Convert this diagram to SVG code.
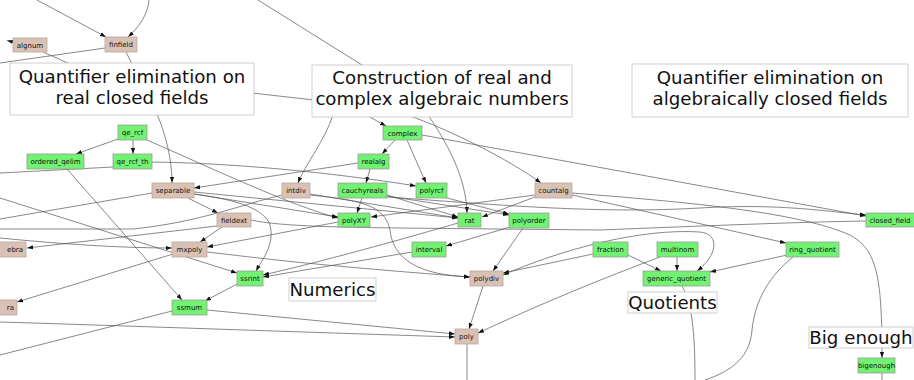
<svg xmlns="http://www.w3.org/2000/svg" width="914" height="380" viewBox="0 0 914 380">
<defs>
<marker id="a" viewBox="0 0 10 10" refX="10" refY="5" markerWidth="6" markerHeight="6" orient="auto-start-reverse" markerUnits="userSpaceOnUse"><path d="M0,1.5 L10,5 L0,8.5 z" fill="#111"/></marker>
<style>
.e{fill:none;stroke:#555;stroke-width:0.7}
.ea{fill:none;stroke:#555;stroke-width:0.7;marker-end:url(#a)}
.g rect{fill:#72f272;stroke:#9c9c9c;stroke-width:0.8}
.b rect{fill:#d9c2b5;stroke:#b8a89e;stroke-width:0.8}
.n text{font-family:"DejaVu Sans",sans-serif;font-size:7px;fill:#111;text-anchor:middle}
.l rect{fill:#fff;stroke:#c4c4c4;stroke-width:0.8}
.l text{font-family:"DejaVu Sans",sans-serif;font-size:18.2px;fill:#111;text-anchor:middle}
</style>
</defs>
<rect width="914" height="380" fill="#fff"/>
<g id="edges">
<path class="ea" d="M37,0 L106,37"/>
<path class="ea" d="M149,0 C148,15 138,28 128,37"/>
<path class="e" d="M258,0 L362,65"/>
<path class="ea" d="M13,42 L7,40.5"/>
<path class="e" d="M43,52 L70,64"/>
<path class="e" d="M105,48 L0,63"/>
<path class="e" d="M126,52 L132,64"/>
<path class="ea" d="M157,114 C166,135 172,160 172,183"/>
<path class="e" d="M252,93 L314,100"/>
<path class="ea" d="M333,115 C325,140 305,165 298,183"/>
<path class="ea" d="M368,116 L386,126"/>
<path class="ea" d="M428,115 C445,140 466,175 467,213"/>
<path class="ea" d="M410,116 C450,130 510,160 541,183"/>
<path class="ea" d="M422,135 L866,216"/>
<path class="ea" d="M395,140 L382,154"/>
<path class="ea" d="M407,140 L426,183"/>
<path class="ea" d="M370,169 L366,183"/>
<path class="ea" d="M358,163 L194,188"/>
<path class="e" d="M113,167 L0,173"/>
<path class="ea" d="M152,162 C230,163 330,172 416,186"/>
<path class="ea" d="M118,139 L76,154"/>
<path class="ea" d="M133,140 L133,154"/>
<path class="ea" d="M147,140 C220,172 290,205 338,218"/>
<path class="ea" d="M188,198 L218,213"/>
<path class="e" d="M152,193 L0,219"/>
<path class="ea" d="M194,194 C240,200 265,210 270,225 C275,245 262,260 256,271"/>
<path class="ea" d="M194,194 L338,217"/>
<path class="ea" d="M194,192 L458,218"/>
<path class="ea" d="M310,195 C360,200 385,205 390,230 C393,260 420,275 470,277"/>
<path class="ea" d="M310,194 L458,218"/>
<path class="e" d="M282,195 C240,205 200,222 133,229 L0,229"/>
<path class="ea" d="M535,195 L371,217"/>
<path class="ea" d="M535,197 L482,217"/>
<path class="ea" d="M572,195 L786,243"/>
<path class="ea" d="M572,193 C700,203 800,213 850,235 C878,250 882,280 882,358"/>
<path class="ea" d="M362,198 L357,213"/>
<path class="ea" d="M387,195 L458,217"/>
<path class="ea" d="M387,196 L509,215"/>
<path class="ea" d="M387,197 C500,205 600,214 700,208 C780,203 830,212 866,215"/>
<path class="ea" d="M447,198 L509,214"/>
<path class="ea" d="M510,227 L446,246"/>
<path class="ea" d="M523,228 L493,271"/>
<path class="ea" d="M458,223 C400,240 320,262 263,275"/>
<path class="ea" d="M412,252 L263,277"/>
<path class="ea" d="M338,222 L207,247"/>
<path class="ea" d="M222,227 L200,242"/>
<path class="e" d="M251,220 C270,224 300,227 400,228 L600,230 C700,226 800,222 866,221"/>
<path class="ea" d="M217,226 L27,248"/>
<path class="ea" d="M0,198 L237,273"/>
<path class="ea" d="M0,238 C60,244 120,248 172,248"/>
<path class="ea" d="M173,254 L17,302"/>
<path class="ea" d="M207,252 C260,258 300,264 470,277"/>
<path class="ea" d="M237,284 L205,301"/>
<path class="e" d="M172,311 L0,355"/>
<path class="ea" d="M207,310 L455,334"/>
<path class="ea" d="M0,322 C100,325 300,332 455,337"/>
<path class="ea" d="M483,286 L469,329"/>
<path class="ea" d="M660,257 C620,272 560,295 478,333"/>
<path class="e" d="M467,344 L467,380"/>
<path class="ea" d="M593,254 L503,273"/>
<path class="ea" d="M503,275 C560,250 640,228 700,232 C720,234 718,255 697,271" marker-start="url(#a)"/>
<path class="ea" d="M628,255 L661,271"/>
<path class="ea" d="M677,257 L677,271"/>
<path class="ea" d="M787,255 L710,272"/>
<path class="e" d="M793,257 C770,275 755,300 752,330 C750,355 735,370 705,380"/>
<path class="e" d="M682,286 C690,300 695,320 695,380"/>
<path class="e" d="M882,373 L882,380"/>
<path class="ea" d="M67,169 L182,300"/>
</g>
<g id="algnum" class="n b"><rect x="13" y="38" width="34" height="14"/><text x="30" y="47.5">algnum</text></g>
<g id="finfield" class="n b"><rect x="105" y="37" width="32" height="15"/><text x="121" y="47">finfield</text></g>
<g id="qe_rcf" class="n g"><rect x="118" y="125" width="29" height="15"/><text x="132.5" y="135">qe_rcf</text></g>
<g id="complex" class="n g"><rect x="383" y="126" width="39" height="14"/><text x="402.5" y="135.5">complex</text></g>
<g id="ordered_qelim" class="n g"><rect x="27" y="154" width="57" height="15"/><text x="55.5" y="164">ordered_qelim</text></g>
<g id="qe_rcf_th" class="n g"><rect x="113" y="154" width="39" height="15"/><text x="132.5" y="164">qe_rcf_th</text></g>
<g id="realalg" class="n g"><rect x="358" y="154" width="31" height="15"/><text x="373.5" y="164">realalg</text></g>
<g id="separable" class="n b"><rect x="152" y="183" width="42" height="15"/><text x="173" y="193">separable</text></g>
<g id="intdiv" class="n b"><rect x="282" y="183" width="28" height="15"/><text x="296" y="193">intdiv</text></g>
<g id="cauchyreals" class="n g"><rect x="338" y="183" width="49" height="15"/><text x="362.5" y="193">cauchyreals</text></g>
<g id="polyrcf" class="n g"><rect x="416" y="183" width="31" height="15"/><text x="431.5" y="193">polyrcf</text></g>
<g id="countalg" class="n b"><rect x="535" y="183" width="37" height="15"/><text x="553.5" y="193">countalg</text></g>
<g id="fieldext" class="n b"><rect x="217" y="213" width="34" height="14"/><text x="234" y="222.5">fieldext</text></g>
<g id="polyXY" class="n g"><rect x="338" y="213" width="32" height="14"/><text x="354" y="222.5">polyXY</text></g>
<g id="rat" class="n g"><rect x="458" y="213" width="23" height="14"/><text x="469.5" y="222.5">rat</text></g>
<g id="polyorder" class="n g"><rect x="509" y="213" width="40" height="15"/><text x="529" y="223">polyorder</text></g>
<g id="closed_field" class="n g"><rect x="866" y="213" width="50" height="14"/><text x="890" y="222.5">closed_field</text></g>
<g id="ebra" class="n b"><rect x="-20" y="242" width="46" height="15"/><text x="23" y="252" style="text-anchor:end">ebra</text></g>
<g id="mxpoly" class="n b"><rect x="172" y="242" width="35" height="15"/><text x="189.5" y="252">mxpoly</text></g>
<g id="interval" class="n g"><rect x="412" y="242" width="34" height="15"/><text x="429" y="252">interval</text></g>
<g id="fraction" class="n g"><rect x="593" y="242" width="35" height="15"/><text x="610.5" y="252">fraction</text></g>
<g id="multinom" class="n g"><rect x="657" y="242" width="41" height="15"/><text x="677.5" y="252">multinom</text></g>
<g id="ring_quotient" class="n g"><rect x="786" y="242" width="53" height="15"/><text x="812.5" y="252">ring_quotient</text></g>
<g id="ssrint" class="n g"><rect x="237" y="271" width="26" height="15"/><text x="250" y="281">ssrint</text></g>
<g id="polydiv" class="n b"><rect x="470" y="271" width="33" height="15"/><text x="486.5" y="281">polydiv</text></g>
<g id="generic_quotient" class="n g"><rect x="643" y="271" width="67" height="15"/><text x="676.5" y="281">generic_quotient</text></g>
<g id="ra" class="n b"><rect x="-20" y="300" width="37" height="15"/><text x="14" y="310" style="text-anchor:end">ra</text></g>
<g id="ssmum" class="n g"><rect x="172" y="300" width="35" height="15"/><text x="189.5" y="310">ssmum</text></g>
<g id="poly" class="n b"><rect x="455" y="329" width="23" height="15"/><text x="466.5" y="339">poly</text></g>
<g id="bigenough" class="n g"><rect x="858" y="358" width="37" height="15"/><text x="876.5" y="368">bigenough</text></g>
<g id="label_qe_rcf" class="l"><rect x="10" y="63" width="244" height="52"/><text x="132" y="83">Quantifier elimination on</text><text x="132" y="104">real closed fields</text></g>
<g id="label_construction" class="l"><rect x="312" y="65" width="260" height="52"/><text x="442" y="84">Construction of real and</text><text x="442" y="105">complex algebraic numbers</text></g>
<g id="label_qe_acf" class="l"><rect x="632" y="64" width="276" height="53"/><text x="770" y="84">Quantifier elimination on</text><text x="770" y="105">algebraically closed fields</text></g>
<g id="label_numerics" class="l"><rect x="289" y="278" width="87" height="23"/><text x="332.5" y="296">Numerics</text></g>
<g id="label_quotients" class="l"><rect x="628" y="292" width="89" height="21"/><text x="672.5" y="309">Quotients</text></g>
<g id="label_bigenough" class="l"><rect x="809" y="327" width="104" height="21"/><text x="861" y="344">Big enough</text></g>
</svg>
